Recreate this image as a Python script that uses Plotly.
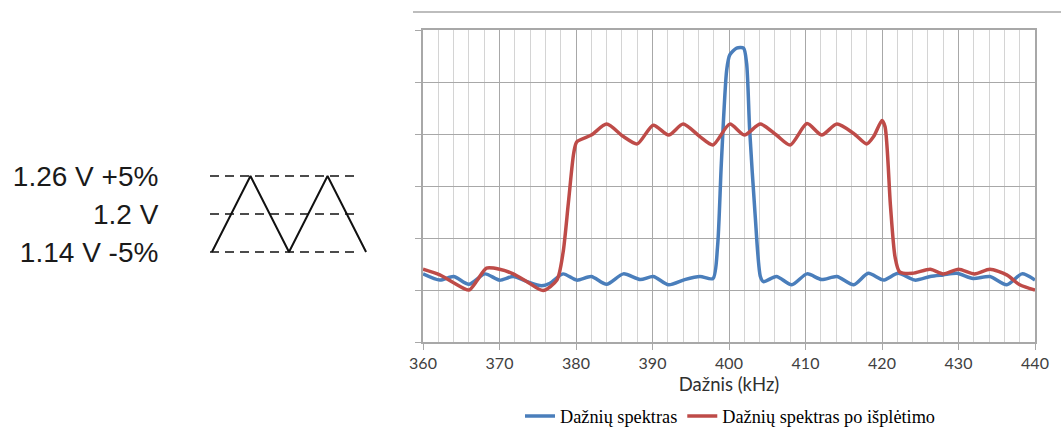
import plotly.graph_objects as go

# ---- data: spectrum chart ----
freq_blue = [360, 362.2, 364, 366, 368.1, 370, 371.8, 373.6, 375.5, 376.6, 378.3, 380.1, 382, 384,
             386.2, 388.4, 390.1, 392.1, 394.2, 396.2, 397.9, 398.5, 399, 399.7, 400.1, 401, 401.9,
             402.3, 402.7, 403.4, 404.1, 404.5, 406.2, 408.2, 410.2, 412.1, 414.1, 416.3, 418.2,
             420.2, 422.1, 424.3, 426.3, 428, 429.8, 431.9, 434.1, 436.3, 438.3, 440]
amp_blue = [1.31, 1.19, 1.26, 1.11, 1.31, 1.19, 1.26, 1.16, 1.08, 1.13, 1.31, 1.19, 1.26, 1.11,
            1.31, 1.20, 1.26, 1.10, 1.20, 1.26, 1.22, 1.83, 3.44, 5.23, 5.52, 5.65, 5.65,
            5.36, 4.08, 2.48, 1.26, 1.16, 1.26, 1.10, 1.31, 1.20, 1.26, 1.10, 1.32,
            1.19, 1.32, 1.19, 1.26, 1.29, 1.32, 1.22, 1.26, 1.10, 1.31, 1.19]

freq_red = [360, 362.2, 364, 366, 367.1, 368.3, 370, 371.8, 373.6, 375.7, 377.5, 378.3, 379, 379.7,
            380.1, 382, 384, 386.2, 388, 390.1, 392.1, 394, 396.2, 397.9, 400.1, 402, 404.1, 406.2,
            408, 410.2, 412.1, 414.1, 416.3, 418, 418.9, 420, 420.4, 421.1, 421.7, 422.3, 424,
            426.3, 428, 430, 432.1, 434.1, 436.3, 438, 440]
amp_red = [1.40, 1.29, 1.14, 1.00, 1.19, 1.42, 1.40, 1.31, 1.16, 0.99, 1.19, 1.71, 2.67, 3.63,
           3.85, 3.98, 4.19, 3.95, 3.81, 4.17, 3.98, 4.19, 3.95, 3.79, 4.19, 3.98, 4.19, 3.98,
           3.79, 4.20, 3.98, 4.19, 4.01, 3.81, 3.95, 4.26, 4.14, 2.63, 1.64, 1.35, 1.32,
           1.40, 1.31, 1.40, 1.31, 1.40, 1.29, 1.10, 1.00]

series_names = ["Dažnių spektras", "Dažnių spektras po išplėtimo"]
x_title = "Dažnis (kHz)"

# ---- data: voltage diagram ----
level_v = [1.14, 1.2, 1.26]
level_labels = ["1.14 V -5%", "1.2 V", "1.26 V +5%"]
wave_x = [0, 1, 2, 3, 4]
wave_v = [1.14, 1.26, 1.14, 1.26, 1.14]
dash_x = [-0.05, 3.7]

W, H = 1061, 437
BLUE = "#4A7EBB"
RED = "#BE4B48"

fig = go.Figure()
fig.add_trace(go.Scatter(x=freq_blue, y=amp_blue, name=series_names[0], mode="lines",
                         line=dict(color=BLUE, width=3.5, shape="spline", smoothing=0.7)))
fig.add_trace(go.Scatter(x=freq_red, y=amp_red, name=series_names[1], mode="lines",
                         line=dict(color=RED, width=3.5, shape="spline", smoothing=0.7)))

for lv in level_v:
    fig.add_trace(go.Scatter(x=dash_x, y=[lv, lv], mode="lines", showlegend=False,
                             xaxis="x2", yaxis="y2", hoverinfo="skip",
                             line=dict(color="#111111", width=1.5, dash="9px,6px")))
fig.add_trace(go.Scatter(x=wave_x, y=wave_v, mode="lines", showlegend=False,
                         xaxis="x2", yaxis="y2", hoverinfo="skip",
                         line=dict(color="#111111", width=2)))

GRID = "#a8a8a8"
MINOR = "#d4d4d4"

fig.update_layout(
    width=W, height=H, autosize=False,
    margin=dict(l=0, r=0, t=0, b=0, autoexpand=False),
    paper_bgcolor="white", plot_bgcolor="white",
    showlegend=True,
    legend=dict(orientation="h", x=520 / W, xanchor="left", y=1 - 416 / H, yanchor="middle",
                font=dict(family="Liberation Serif", size=18.3, color="#000000"),
                itemwidth=30, bgcolor="rgba(0,0,0,0)", traceorder="normal"),
    xaxis=dict(domain=[423 / W, 1035 / W], range=[360, 440], dtick=10, tick0=360,
               automargin=False,
               showgrid=True, gridcolor=GRID, gridwidth=1.3,
               minor=dict(dtick=2, showgrid=True, gridcolor=MINOR, gridwidth=1.2, ticks=""),
               showline=True, linecolor=GRID, linewidth=1.5, mirror=True,
               ticks="outside", ticklen=6, tickcolor=GRID, tickwidth=1.3,
               tickfont=dict(family="Lato", size=16, color="#404040"),
               title=dict(text=x_title, font=dict(family="Lato", size=18.5, color="#303030"),
                          standoff=7),
               zeroline=False, anchor="y"),
    yaxis=dict(domain=[1 - 342 / H, 1 - 30 / H], range=[0, 6], dtick=1, tick0=0,
               automargin=False,
               showgrid=True, gridcolor=GRID, gridwidth=1.3,
               showline=True, linecolor=GRID, linewidth=1.5, mirror=True,
               ticks="outside", ticklen=6, tickcolor=GRID, tickwidth=1.3,
               showticklabels=False, zeroline=False, anchor="x"),
    xaxis2=dict(domain=[210 / W, 368 / W], range=[-0.05, 4.05], visible=False, anchor="y2",
                automargin=False),
    yaxis2=dict(domain=[1 - 258.3 / H, 1 - 169.7 / H], range=[1.13, 1.27], anchor="x2",
                automargin=False,
                tickvals=level_v, ticktext=level_labels, showgrid=False, zeroline=False,
                showline=False, ticks="outside", ticklen=45, tickcolor="rgba(0,0,0,0)",
                tickfont=dict(family="Liberation Sans", size=28, color="#1a1a1a")),
    shapes=[dict(type="line", xref="paper", yref="paper", x0=413 / W, x1=1, y0=1 - 12 / H,
                 y1=1 - 12 / H, line=dict(color="#bdbdbd", width=2))],
)

post = (
    "document.documentElement.style.margin='0';document.documentElement.style.padding='0';"
    "document.body.style.margin='0';document.body.style.padding='0';"
    "document.documentElement.style.overflow='hidden';document.body.style.overflow='hidden';"
    "var gd=document.getElementById('{plot_id}');"
    "gd.style.position='fixed';gd.style.left='0px';gd.style.top='0px';"
)

fig.write_html("out.html", config={"displayModeBar": False}, post_script=post)
